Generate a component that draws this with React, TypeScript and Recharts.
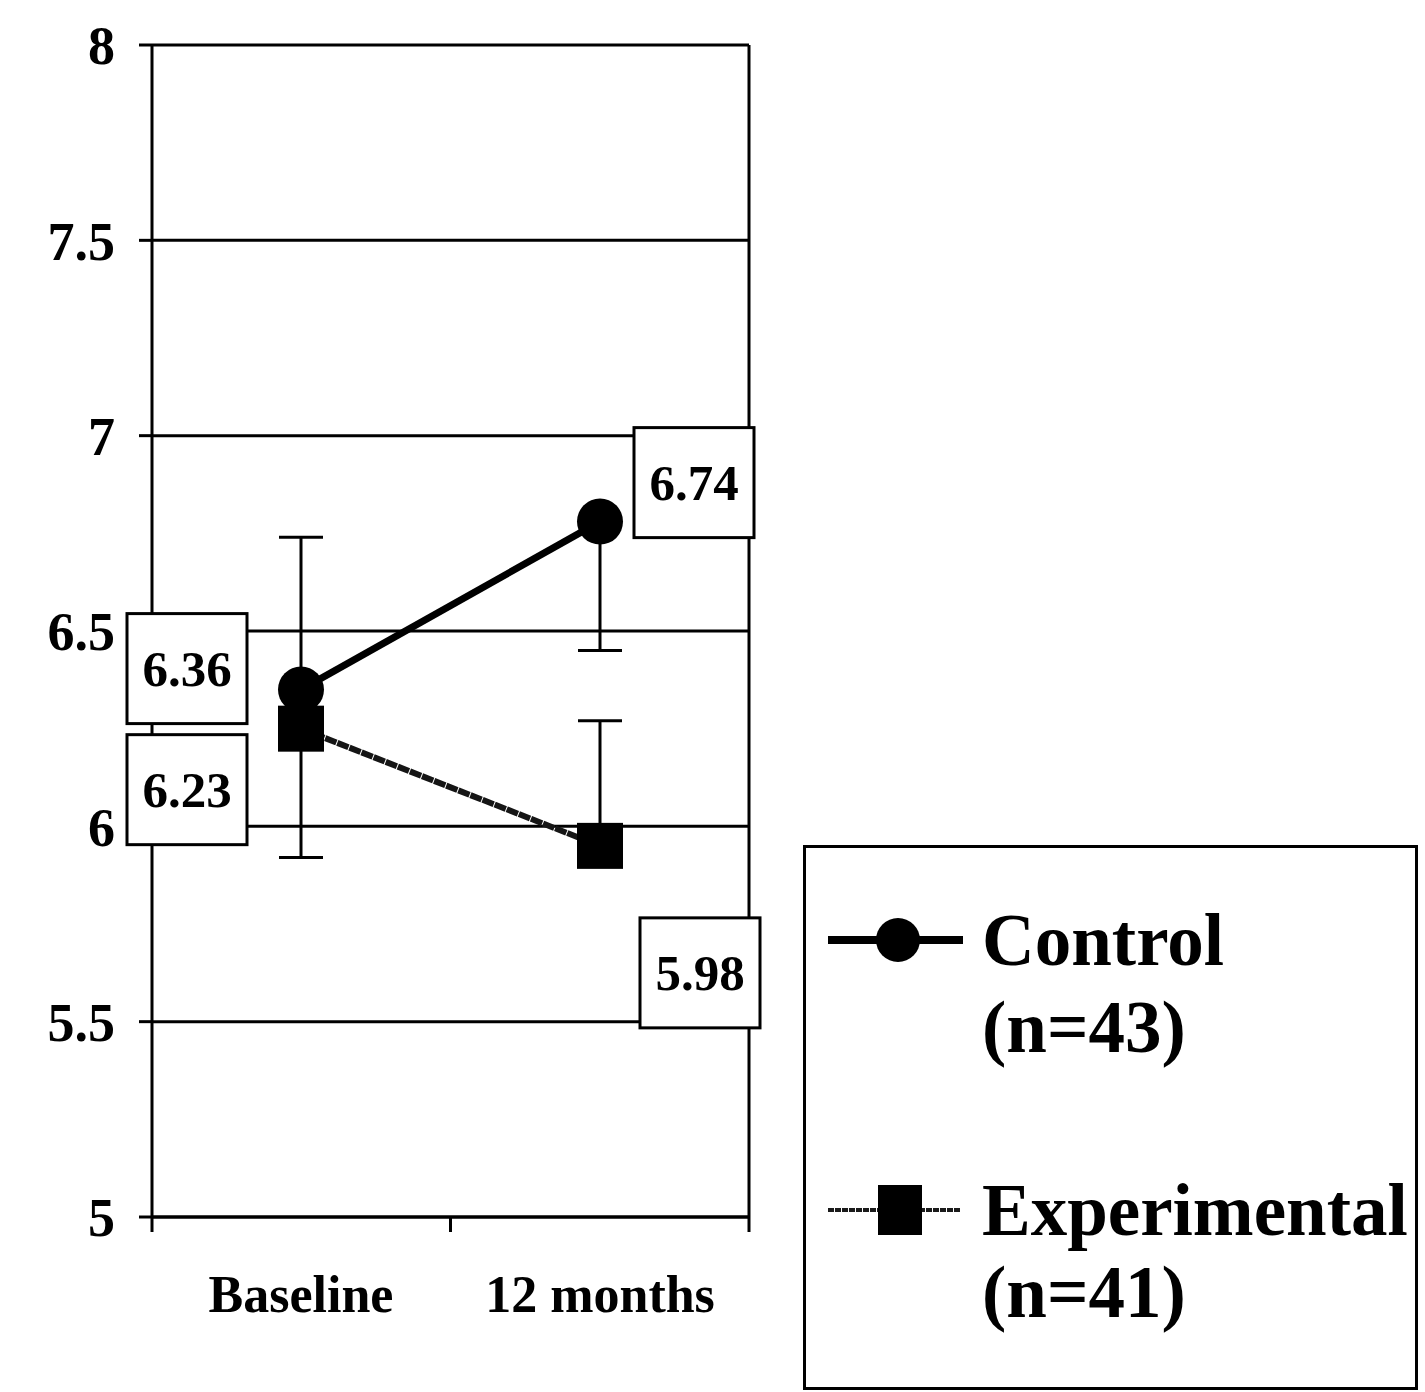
import React from "react";
import {
  LineChart,
  Line,
  XAxis,
  YAxis,
  CartesianGrid,
  ErrorBar,
  LabelList,
  Legend,
} from "recharts";

// ---- data ----
const categories = ["Baseline", "12 months"];
const controlMeans = [6.35, 6.78];
const experimentalMeans = [6.25, 5.95];
// [below, above]
const controlErrors: [number, number][] = [
  [0, 0.39],
  [0.33, 0],
];
const experimentalErrors: [number, number][] = [
  [0.33, 0],
  [0, 0.32],
];
const controlLabels = ["6.36", "6.74"];
const experimentalLabels = ["6.23", "5.98"];
const yTicks = [5, 5.5, 6, 6.5, 7, 7.5, 8];
const seriesNames = ["Control", "Experimental"];
const seriesCounts = ["(n=43)", "(n=41)"];

const data = categories.map((c, i) => ({
  time: c,
  control: controlMeans[i],
  experimental: experimentalMeans[i],
  controlErr: controlErrors[i],
  experimentalErr: experimentalErrors[i],
  controlLabel: controlLabels[i],
  experimentalLabel: experimentalLabels[i],
}));

// ---- styling ----
const FONT = "'Liberation Serif', 'Times New Roman', serif";
const BOX_W = 120;
const BOX_H = 110;
const labelOffsets: Record<string, [number, number][]> = {
  control: [
    [-114, -21],
    [94, -39],
  ],
  experimental: [
    [-114, 61],
    [100, 127],
  ],
};

const makeLabel = (series: string) => (props: any) => {
  const { value, index } = props;
  const px = props.x ?? props.viewBox?.x;
  const py = props.y ?? props.viewBox?.y;
  const [dx, dy] = labelOffsets[series][index];
  const cx = px + dx;
  const cy = py + dy;
  return (
    <g key={`${series}-lbl-${index}`}>
      <rect
        x={cx - BOX_W / 2}
        y={cy - BOX_H / 2}
        width={BOX_W}
        height={BOX_H}
        fill="#fff"
        stroke="#000"
        strokeWidth={3}
      />
      <text
        x={cx}
        y={cy}
        textAnchor="middle"
        dominantBaseline="central"
        fontFamily={FONT}
        fontWeight="bold"
        fontSize={51}
        fill="#000"
      >
        {value}
      </text>
    </g>
  );
};

const SquareDot = (props: any) => {
  const { cx, cy, index } = props;
  if (cx == null || cy == null) return null;
  return (
    <rect
      key={`exp-dot-${index}`}
      x={cx - 23}
      y={cy - 23}
      width={46}
      height={46}
      fill="#000"
    />
  );
};

const EmptyTick = () => <g />;

const renderLegend = (props: any) => {
  const payload = props.payload || [];
  return (
    <svg width={615} height={545} style={{ display: "block" }}>
      <rect x={1.5} y={1.5} width={612} height={542} fill="#fff" stroke="#000" strokeWidth={3} />
      {payload.map((entry: any, i: number) => {
        const top = i === 0 ? 95 : 365;
        return (
          <g key={`leg-${i}`}>
            {i === 0 ? (
              <>
                <line x1={25} x2={160} y1={top} y2={top} stroke="#000" strokeWidth={8} />
                <circle cx={95} cy={top} r={22} fill="#000" />
              </>
            ) : (
              <>
                <line
                  x1={25}
                  x2={157}
                  y1={top}
                  y2={top}
                  stroke="#1a1a1a"
                  strokeWidth={4}
                  strokeDasharray="6 1"
                />
                <rect x={75} y={top - 25} width={44} height={50} fill="#000" />
              </>
            )}
            <text
              x={179}
              y={top + 25}
              fontFamily={FONT}
              fontWeight="bold"
              fontSize={73}
              fill="#000"
            >
              {entry.value}
            </text>
            <text
              x={179}
              y={top + (i === 0 ? 112 : 107)}
              fontFamily={FONT}
              fontWeight="bold"
              fontSize={73}
              fill="#000"
            >
              {seriesCounts[i]}
            </text>
          </g>
        );
      })}
    </svg>
  );
};

const categoryIndex = (d: any) => categories.indexOf(d.time);

export default function App() {
  return (
    <div style={{ position: "absolute", left: 0, top: 0, background: "#fff" }}>
      <LineChart
        width={1425}
        height={1392}
        data={data}
        margin={{ top: 45, right: 675, bottom: 75, left: 0 }}
      >
        <CartesianGrid xAxisId="labels" vertical={false} stroke="#000" strokeWidth={3} />
        <XAxis
          xAxisId="frame"
          type="number"
          dataKey={categoryIndex}
          domain={[0, categories.length]}
          ticks={[0, 1, 2]}
          allowDataOverflow
          interval={0}
          tick={EmptyTick}
          axisLine={{ stroke: "#000", strokeWidth: 3 }}
          tickLine={{ stroke: "#000", strokeWidth: 3 }}
          tickSize={15}
          height={20}
        />
        <XAxis
          xAxisId="labels"
          dataKey="time"
          padding={{ left: 149, right: 149 }}
          height={80}
          axisLine={false}
          tickLine={false}
          tickSize={0}
          tickMargin={38}
          tick={{
            fontFamily: FONT,
            fontWeight: "bold",
            fontSize: 52,
            fill: "#000",
          }}
        />
        <YAxis
          domain={[5, 8]}
          ticks={yTicks}
          width={152}
          tickFormatter={(v: number) => String(v)}
          axisLine={{ stroke: "#000", strokeWidth: 3 }}
          tickLine={{ stroke: "#000", strokeWidth: 3 }}
          tickSize={13}
          tickMargin={24}
          tick={{
            fontFamily: FONT,
            fontWeight: "bold",
            fontSize: 54,
            fill: "#000",
          }}
        />
        <YAxis
          yAxisId="frameRight"
          orientation="right"
          domain={[5, 8]}
          width={1}
          tick={false}
          tickLine={false}
          axisLine={{ stroke: "#000", strokeWidth: 3 }}
        />
        <Line
          xAxisId="labels"
          name={seriesNames[1]}
          dataKey="experimental"
          stroke="#151515"
          strokeWidth={6}
          strokeDasharray="12 1"
          dot={SquareDot}
          activeDot={false}
          isAnimationActive={false}
        >
          <ErrorBar dataKey="experimentalErr" width={22} strokeWidth={3} stroke="#000" direction="y" />
          <LabelList dataKey="experimentalLabel" content={makeLabel("experimental")} />
        </Line>
        <Line
          xAxisId="labels"
          name={seriesNames[0]}
          dataKey="control"
          stroke="#000"
          strokeWidth={7}
          dot={{ r: 23, fill: "#000", stroke: "#000", strokeWidth: 0 }}
          activeDot={false}
          isAnimationActive={false}
        >
          <ErrorBar dataKey="controlErr" width={22} strokeWidth={3} stroke="#000" direction="y" />
          <LabelList dataKey="controlLabel" content={makeLabel("control")} />
        </Line>
        <Legend
          layout="vertical"
          align="center"
          verticalAlign="middle"
          content={(p: any) => {
            const order = [...(p.payload || [])].sort(
              (a: any, b: any) => seriesNames.indexOf(a.value) - seriesNames.indexOf(b.value)
            );
            return renderLegend({ payload: order });
          }}
          wrapperStyle={{ position: "absolute", left: 803, top: 845, width: 615, height: 545 }}
        />
      </LineChart>
    </div>
  );
}
